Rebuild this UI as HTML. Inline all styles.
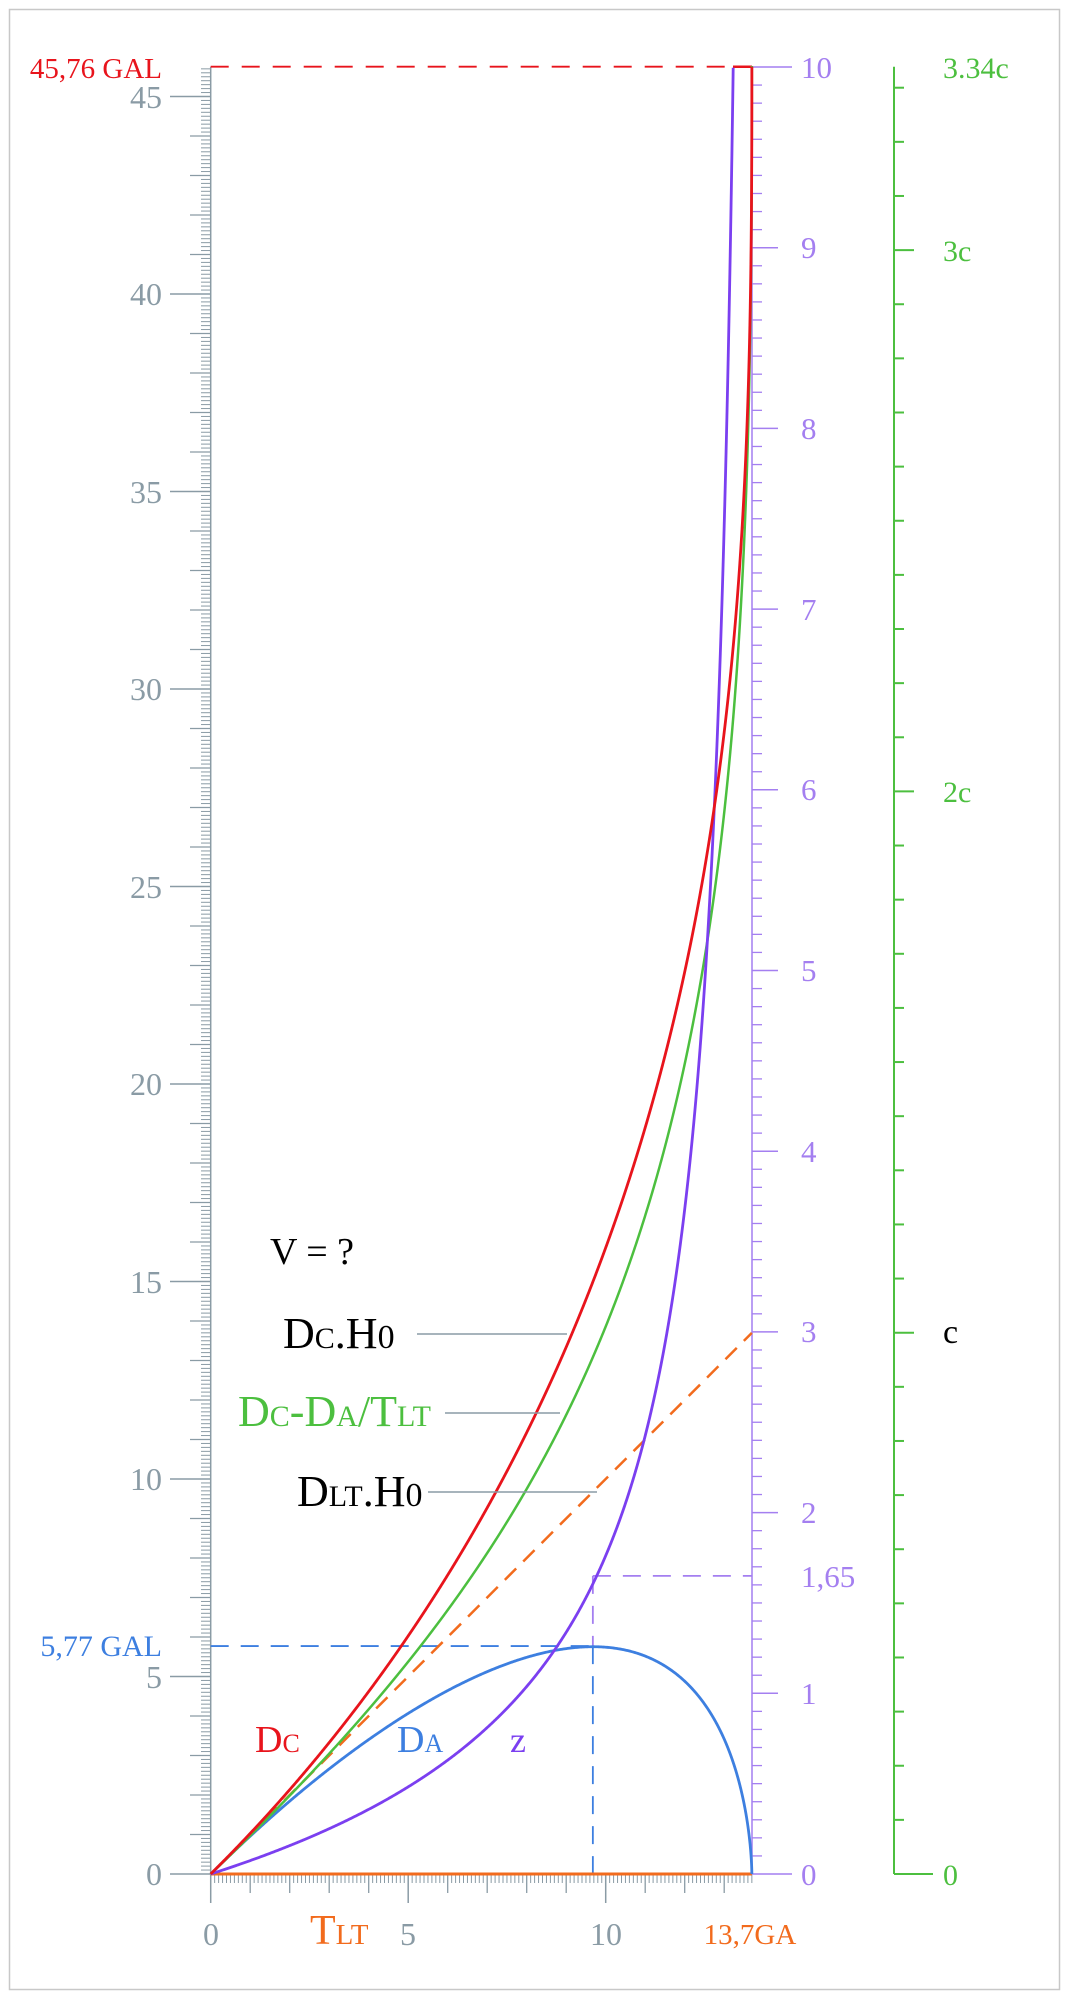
<!DOCTYPE html>
<html><head><meta charset="utf-8"><style>
html,body{margin:0;padding:0;background:#fff}
svg{display:block}
text{font-family:"Liberation Serif","DejaVu Serif",serif}
</style></head><body>
<svg id="s" width="1070" height="2000" viewBox="0 0 1070 2000" xmlns="http://www.w3.org/2000/svg">
<rect x="9.5" y="9.5" width="1050" height="1980" fill="#fff" stroke="#c8c8c8" stroke-width="1.5"/>
<g id="g"></g>
<g font-size="32" fill="#8a9ba5" text-anchor="end">
<text x="162" y="108">45</text><text x="162" y="305">40</text><text x="162" y="503">35</text>
<text x="162" y="700">30</text><text x="162" y="898">25</text><text x="162" y="1095">20</text>
<text x="162" y="1293">15</text><text x="162" y="1490">10</text><text x="162" y="1688">5</text>
<text x="162" y="1885">0</text>
</g>
<g font-size="32" fill="#8a9ba5" text-anchor="middle">
<text x="211" y="1945">0</text><text x="408" y="1945">5</text><text x="606" y="1945">10</text>
</g>
<text x="750" y="1944" font-size="29" fill="#f26b1d" text-anchor="middle">13,7GA</text>
<text x="310" y="1944" fill="#f26b1d"><tspan font-size="42">T</tspan><tspan font-size="29">LT</tspan></text>
<text x="162" y="78" font-size="29" fill="#e8141c" text-anchor="end">45,76 GAL</text>
<text x="162" y="1656" font-size="30" fill="#3d7fe0" text-anchor="end">5,77 GAL</text>
<g font-size="31" fill="#a47ff0">
<text x="801" y="78">10</text><text x="801" y="258">9</text><text x="801" y="439">8</text>
<text x="801" y="620">7</text><text x="801" y="800">6</text><text x="801" y="981">5</text>
<text x="801" y="1162">4</text><text x="801" y="1342">3</text><text x="801" y="1523">2</text>
<text x="801" y="1587">1,65</text><text x="801" y="1704">1</text><text x="801" y="1885">0</text>
</g>
<g font-size="30" fill="#4cbf3f">
<text x="943" y="78">3.34c</text><text x="943" y="261">3c</text><text x="943" y="802">2c</text>
<text x="943" y="1885">0</text>
</g>
<text x="943" y="1343" font-size="34" fill="#000">c</text>
<text x="312" y="1264" font-size="38" fill="#000" text-anchor="middle">V = ?</text>
<text x="283" y="1348" fill="#000"><tspan font-size="44">D</tspan><tspan font-size="30">C</tspan><tspan font-size="44">.H</tspan><tspan font-size="34">0</tspan></text>
<text x="238" y="1426" fill="#4cbf3f"><tspan font-size="44">D</tspan><tspan font-size="30">C</tspan><tspan font-size="44">-D</tspan><tspan font-size="30">A</tspan><tspan font-size="44">/T</tspan><tspan font-size="30">LT</tspan></text>
<text x="297" y="1506" fill="#000"><tspan font-size="44">D</tspan><tspan font-size="30">LT</tspan><tspan font-size="44">.H</tspan><tspan font-size="34">0</tspan></text>
<line x1="417" y1="1334" x2="567" y2="1334" stroke="#8a9ba5" stroke-width="1.5"/>
<line x1="445" y1="1413" x2="560" y2="1413" stroke="#8a9ba5" stroke-width="1.5"/>
<line x1="428" y1="1492" x2="597" y2="1492" stroke="#8a9ba5" stroke-width="1.5"/>
<text x="255" y="1752" fill="#e8141c"><tspan font-size="38">D</tspan><tspan font-size="26">C</tspan></text>
<text x="397" y="1752" fill="#3d7fe0"><tspan font-size="38">D</tspan><tspan font-size="26">A</tspan></text>
<text x="510" y="1752" font-size="36" fill="#7b3ff0">z</text>
</svg>
<script>
(function(){
var g=document.getElementById('g'),NS='http://www.w3.org/2000/svg';
function el(t,a){var e=document.createElementNS(NS,t);for(var k in a)e.setAttribute(k,a[k]);g.appendChild(e);return e;}
function ln(x1,y1,x2,y2,c,w,d){var a={x1:x1,y1:y1,x2:x2,y2:y2,stroke:c,'stroke-width':w||1.5};if(d)a['stroke-dasharray']=d;return el('line',a);}
var X0=210.7,Y0=1874,U=39.5,PZ=180.7,GC=541.3;
function X(t){return X0+t*U}function YL(v){return Y0-v*U}
var gray='#8a9ba5',pur='#a47ff0',grn='#4cbf3f';
ln(X0,66.7,X0,Y0,gray,1.5);
for(var i=1;i<=457;i++){var v=i/10,y=YL(v);if(y<66)break;
 if(i%50==0)ln(170,y,X0,y,gray,1.5);else if(i%10==0)ln(190,y,X0,y,gray,1.3);else ln(201,y,X0,y,gray,1);}
ln(170,Y0,X0,Y0,gray,1.5);
for(var i=0;i<=137;i++){var x=X(i/10);
 if(i%50==0)ln(x,Y0,x,1903,gray,1.5);else if(i%10==0)ln(x,Y0,x,1893,gray,1.3);else ln(x,Y0,x,1883,gray,1);}
var XP=752;ln(XP,67,XP,Y0,pur,1.5);
for(var i=0;i<=100;i++){var y=Y0-i/10*PZ;
 if(i==0||i==100)ln(XP,y,792,y,pur,1.5);else if(i%10==0)ln(XP,y,778,y,pur,1.5);else ln(XP,y,762,y,pur,1.3);}
var XG=894;ln(XG,66.7,XG,Y0,grn,2);ln(XG,Y0,933,Y0,grn,2);
for(var i=1;i<=33;i++){var y=Y0-i/10*GC;ln(XG,y,i%10==0?914:904,y,grn,2);}
var Om=0.3,Or=8.4e-5,OL=1-Om-Or;
function H(a){return Math.sqrt(Or/(a*a*a*a)+Om/(a*a*a)+OL);}
var pts=[],T=0,D=0,h=0.0005,la=0;
pts.push([1,0,0]);
while(la>-14){var a1=Math.exp(la),a2=Math.exp(la-h),am=Math.exp(la-h/2);
 T+=h*(1/H(a1)+4/H(am)+1/H(a2))/6;D+=h*(1/(a1*H(a1))+4/(am*H(am))+1/(a2*H(a2)))/6;la-=h;pts.push([a2,T,D]);}
var ts=13.7/T,ds=45.76/D;
function path(fn,col,w,clipZ){var d='',lx=-99,ly=-99;
 for(var i=0;i<pts.length;i++){var p=pts[i],a=p[0],t=p[1]*ts,dc=p[2]*ds,z=1/a-1;
  if(clipZ&&z>10){break;}
  var q=fn(t,dc,a,z);if(!q)continue;
  if(Math.abs(q[0]-lx)+Math.abs(q[1]-ly)<1.2&&i<pts.length-1)continue;
  d+=(d?'L':'M')+q[0].toFixed(2)+','+q[1].toFixed(2);lx=q[0];ly=q[1];}
 el('path',{d:d,fill:'none',stroke:col,'stroke-width':w,'stroke-linejoin':'round'});}
ln(X0,66.7,733,66.7,'#e8141c',1.8,'18,13');ln(733,66.7,752,66.7,'#e8141c',2.5);
var best=0,bt=0;for(var i=0;i<pts.length;i++){var da=pts[i][2]*ds*pts[i][0];if(da>best){best=da;bt=pts[i][1]*ts;}}
var xp=X(bt);
ln(X0,YL(5.77),xp,YL(5.77),'#3d7fe0',1.8,'18,12');
ln(xp,YL(5.77),xp,Y0,'#3d7fe0',1.8,'18,12');
var yz=Y0-1.65*PZ;
ln(xp,yz,XP,yz,pur,1.8,'18,12');ln(xp,yz,xp,YL(5.77),pur,1.8,'18,12');
ln(X0,Y0,X(13.7),Y0,'#f26b1d',3);
ln(X0,Y0,X(13.7),YL(13.7),'#f26b1d',2.5,'16,10');
path(function(t,dc,a){return [X(t),YL(dc*a)]},'#3d7fe0',2.8);
path(function(t,dc,a){if(t<1e-4)return [X0,Y0];return [X(t),Y0-(dc-dc*a)/t*GC]},'#4cbf3f',2.5);
path(function(t,dc,a,z){return [X(t),Y0-z*PZ]},'#7b3ff0',2.8,true);
path(function(t,dc){return [X(t),Math.max(66.7,YL(dc))]},'#e8141c',2.8);
})();
</script>
</body></html>
